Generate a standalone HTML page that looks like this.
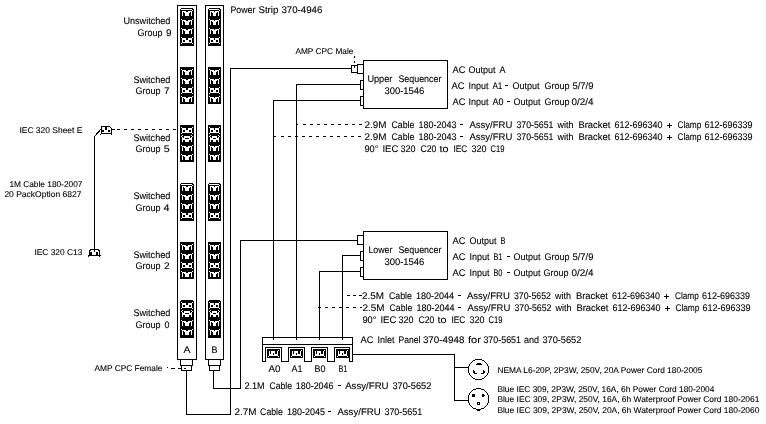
<!DOCTYPE html>
<html><head><meta charset="utf-8"><style>
html,body{margin:0;padding:0;background:#fff;width:766px;height:424px;overflow:hidden}
svg{display:block;filter:grayscale(100%)}
text{font-family:"Liberation Sans",sans-serif;text-rendering:geometricPrecision}
</style></head><body>
<svg width="766" height="424" viewBox="0 0 766 424">
<rect width="766" height="424" fill="#fff"/>
<g fill="none" stroke="#000" stroke-width="1" shape-rendering="crispEdges">
<rect x="177.5" y="5.5" width="19" height="354" fill="none"/>
<rect x="205.5" y="5.5" width="18" height="354" fill="none"/>
<rect x="180" y="8" width="14" height="38" fill="#000" stroke="none"/>
<g stroke="none">
<rect x="180" y="8" width="1" height="1" fill="#fff" stroke="none"/>
<rect x="193" y="8" width="1" height="1" fill="#fff" stroke="none"/>
<path d="M180 8h1v1h-1zM193 8h1v1h-1zM181 9h11v1h-11zM192 10h1v1h-1zM182 11h4v1h-4zM188 11h4v1h-4zM182 12h1v1h-1zM184 12h6v1h-6zM191 12h1v1h-1zM182 13h1v1h-1zM185 13h4v1h-4zM191 13h1v1h-1zM182 14h1v1h-1zM185 14h4v1h-4zM191 14h1v1h-1zM182 15h1v1h-1zM185 15h4v1h-4zM191 15h1v1h-1z" fill="#fff" stroke="none"/>
<path d="M181 19h1v1h-1zM192 19h1v1h-1zM182 20h4v1h-4zM188 20h4v1h-4zM182 21h1v1h-1zM184 21h6v1h-6zM191 21h1v1h-1zM182 22h1v1h-1zM185 22h4v1h-4zM191 22h1v1h-1zM182 23h1v1h-1zM185 23h4v1h-4zM191 23h1v1h-1zM182 24h1v1h-1zM185 24h4v1h-4zM191 24h1v1h-1z" fill="#fff" stroke="none"/>
<path d="M181 28h1v1h-1zM192 28h1v1h-1zM182 29h4v1h-4zM188 29h4v1h-4zM182 30h1v1h-1zM184 30h6v1h-6zM191 30h1v1h-1zM182 31h1v1h-1zM185 31h4v1h-4zM191 31h1v1h-1zM182 32h1v1h-1zM185 32h4v1h-4zM191 32h1v1h-1zM182 33h1v1h-1zM185 33h4v1h-4zM191 33h1v1h-1z" fill="#fff" stroke="none"/>
<path d="M181 37h1v1h-1zM192 37h1v1h-1zM182 38h4v1h-4zM188 38h4v1h-4zM182 39h4v1h-4zM188 39h4v1h-4zM182 40h1v1h-1zM185 40h4v1h-4zM191 40h1v1h-1zM182 41h1v1h-1zM185 41h4v1h-4zM191 41h1v1h-1zM182 42h10v1h-10zM181 43h1v1h-1zM192 43h1v1h-1z" fill="#fff" stroke="none"/>
</g>
<rect x="208" y="8" width="13" height="38" fill="#000" stroke="none"/>
<g stroke="none">
<rect x="208" y="8" width="1" height="1" fill="#fff" stroke="none"/>
<rect x="220" y="8" width="1" height="1" fill="#fff" stroke="none"/>
<path d="M208 8h1v1h-1zM220 8h1v1h-1zM209 9h10v1h-10zM219 10h1v1h-1zM210 11h4v1h-4zM215 11h4v1h-4zM210 12h1v1h-1zM212 12h5v1h-5zM218 12h1v1h-1zM210 13h1v1h-1zM213 13h3v1h-3zM218 13h1v1h-1zM210 14h1v1h-1zM213 14h3v1h-3zM218 14h1v1h-1zM210 15h1v1h-1zM213 15h3v1h-3zM218 15h1v1h-1z" fill="#fff" stroke="none"/>
<path d="M209 19h1v1h-1zM219 19h1v1h-1zM210 20h4v1h-4zM215 20h4v1h-4zM210 21h1v1h-1zM212 21h5v1h-5zM218 21h1v1h-1zM210 22h1v1h-1zM213 22h3v1h-3zM218 22h1v1h-1zM210 23h1v1h-1zM213 23h3v1h-3zM218 23h1v1h-1zM210 24h1v1h-1zM213 24h3v1h-3zM218 24h1v1h-1z" fill="#fff" stroke="none"/>
<path d="M209 28h1v1h-1zM219 28h1v1h-1zM210 29h4v1h-4zM215 29h4v1h-4zM210 30h1v1h-1zM212 30h5v1h-5zM218 30h1v1h-1zM210 31h1v1h-1zM213 31h3v1h-3zM218 31h1v1h-1zM210 32h1v1h-1zM213 32h3v1h-3zM218 32h1v1h-1zM210 33h1v1h-1zM213 33h3v1h-3zM218 33h1v1h-1z" fill="#fff" stroke="none"/>
<path d="M209 37h1v1h-1zM219 37h1v1h-1zM210 38h4v1h-4zM215 38h4v1h-4zM210 39h4v1h-4zM215 39h4v1h-4zM210 40h1v1h-1zM213 40h3v1h-3zM218 40h1v1h-1zM210 41h1v1h-1zM213 41h3v1h-3zM218 41h1v1h-1zM210 42h9v1h-9zM209 43h1v1h-1zM219 43h1v1h-1z" fill="#fff" stroke="none"/>
</g>
<rect x="180" y="67" width="14" height="37" fill="#000" stroke="none"/>
<g stroke="none">
<path d="M181 69h1v1h-1zM192 69h1v1h-1zM182 70h4v1h-4zM188 70h4v1h-4zM182 71h1v1h-1zM184 71h6v1h-6zM191 71h1v1h-1zM182 72h1v1h-1zM185 72h4v1h-4zM191 72h1v1h-1zM182 73h1v1h-1zM185 73h4v1h-4zM191 73h1v1h-1zM182 74h1v1h-1zM185 74h4v1h-4zM191 74h1v1h-1z" fill="#fff" stroke="none"/>
<path d="M181 78h1v1h-1zM192 78h1v1h-1zM182 79h4v1h-4zM188 79h4v1h-4zM182 80h1v1h-1zM184 80h6v1h-6zM191 80h1v1h-1zM182 81h1v1h-1zM185 81h4v1h-4zM191 81h1v1h-1zM182 82h1v1h-1zM185 82h4v1h-4zM191 82h1v1h-1zM182 83h1v1h-1zM185 83h4v1h-4zM191 83h1v1h-1z" fill="#fff" stroke="none"/>
<path d="M181 87h1v1h-1zM192 87h1v1h-1zM182 88h4v1h-4zM188 88h4v1h-4zM182 89h4v1h-4zM188 89h4v1h-4zM182 90h1v1h-1zM185 90h4v1h-4zM191 90h1v1h-1zM182 91h1v1h-1zM185 91h4v1h-4zM191 91h1v1h-1zM182 92h10v1h-10zM181 93h1v1h-1zM192 93h1v1h-1z" fill="#fff" stroke="none"/>
<path d="M181 96h1v1h-1zM192 96h1v1h-1zM182 97h4v1h-4zM188 97h4v1h-4zM182 98h1v1h-1zM184 98h6v1h-6zM191 98h1v1h-1zM182 99h1v1h-1zM185 99h4v1h-4zM191 99h1v1h-1zM182 100h1v1h-1zM185 100h4v1h-4zM191 100h1v1h-1zM182 101h1v1h-1zM185 101h4v1h-4zM191 101h1v1h-1z" fill="#fff" stroke="none"/>
</g>
<rect x="208" y="67" width="13" height="37" fill="#000" stroke="none"/>
<g stroke="none">
<path d="M209 69h1v1h-1zM219 69h1v1h-1zM210 70h4v1h-4zM215 70h4v1h-4zM210 71h1v1h-1zM212 71h5v1h-5zM218 71h1v1h-1zM210 72h1v1h-1zM213 72h3v1h-3zM218 72h1v1h-1zM210 73h1v1h-1zM213 73h3v1h-3zM218 73h1v1h-1zM210 74h1v1h-1zM213 74h3v1h-3zM218 74h1v1h-1z" fill="#fff" stroke="none"/>
<path d="M209 78h1v1h-1zM219 78h1v1h-1zM210 79h4v1h-4zM215 79h4v1h-4zM210 80h1v1h-1zM212 80h5v1h-5zM218 80h1v1h-1zM210 81h1v1h-1zM213 81h3v1h-3zM218 81h1v1h-1zM210 82h1v1h-1zM213 82h3v1h-3zM218 82h1v1h-1zM210 83h1v1h-1zM213 83h3v1h-3zM218 83h1v1h-1z" fill="#fff" stroke="none"/>
<path d="M209 87h1v1h-1zM219 87h1v1h-1zM210 88h4v1h-4zM215 88h4v1h-4zM210 89h4v1h-4zM215 89h4v1h-4zM210 90h1v1h-1zM213 90h3v1h-3zM218 90h1v1h-1zM210 91h1v1h-1zM213 91h3v1h-3zM218 91h1v1h-1zM210 92h9v1h-9zM209 93h1v1h-1zM219 93h1v1h-1z" fill="#fff" stroke="none"/>
<path d="M209 96h1v1h-1zM219 96h1v1h-1zM210 97h4v1h-4zM215 97h4v1h-4zM210 98h1v1h-1zM212 98h5v1h-5zM218 98h1v1h-1zM210 99h1v1h-1zM213 99h3v1h-3zM218 99h1v1h-1zM210 100h1v1h-1zM213 100h3v1h-3zM218 100h1v1h-1zM210 101h1v1h-1zM213 101h3v1h-3zM218 101h1v1h-1z" fill="#fff" stroke="none"/>
</g>
<rect x="180" y="125" width="14" height="37" fill="#000" stroke="none"/>
<g stroke="none">
<path d="M181 127h1v1h-1zM192 127h1v1h-1zM182 128h4v1h-4zM188 128h4v1h-4zM182 129h4v1h-4zM188 129h4v1h-4zM182 130h1v1h-1zM185 130h4v1h-4zM191 130h1v1h-1zM182 131h1v1h-1zM185 131h4v1h-4zM191 131h1v1h-1zM182 132h10v1h-10zM181 133h1v1h-1zM192 133h1v1h-1z" fill="#fff" stroke="none"/>
<path d="M182 135h1v1h-1zM191 135h1v1h-1zM181 136h1v1h-1zM184 136h6v1h-6zM192 136h1v1h-1zM182 137h1v1h-1zM184 137h6v1h-6zM191 137h1v1h-1zM182 138h3v1h-3zM189 138h3v1h-3zM182 139h10v1h-10zM182 140h1v1h-1zM185 140h4v1h-4zM191 140h1v1h-1zM182 141h1v1h-1zM185 141h4v1h-4zM191 141h1v1h-1z" fill="#fff" stroke="none"/>
<path d="M181 145h1v1h-1zM192 145h1v1h-1zM182 146h4v1h-4zM188 146h4v1h-4zM182 147h1v1h-1zM184 147h6v1h-6zM191 147h1v1h-1zM182 148h1v1h-1zM185 148h4v1h-4zM191 148h1v1h-1zM182 149h1v1h-1zM185 149h4v1h-4zM191 149h1v1h-1zM182 150h1v1h-1zM185 150h4v1h-4zM191 150h1v1h-1z" fill="#fff" stroke="none"/>
<path d="M181 154h1v1h-1zM192 154h1v1h-1zM182 155h4v1h-4zM188 155h4v1h-4zM182 156h1v1h-1zM184 156h6v1h-6zM191 156h1v1h-1zM182 157h1v1h-1zM185 157h4v1h-4zM191 157h1v1h-1zM182 158h1v1h-1zM185 158h4v1h-4zM191 158h1v1h-1zM182 159h1v1h-1zM185 159h4v1h-4zM191 159h1v1h-1z" fill="#fff" stroke="none"/>
</g>
<rect x="208" y="125" width="13" height="37" fill="#000" stroke="none"/>
<g stroke="none">
<path d="M209 127h1v1h-1zM219 127h1v1h-1zM210 128h4v1h-4zM215 128h4v1h-4zM210 129h4v1h-4zM215 129h4v1h-4zM210 130h1v1h-1zM213 130h3v1h-3zM218 130h1v1h-1zM210 131h1v1h-1zM213 131h3v1h-3zM218 131h1v1h-1zM210 132h9v1h-9zM209 133h1v1h-1zM219 133h1v1h-1z" fill="#fff" stroke="none"/>
<path d="M210 135h1v1h-1zM218 135h1v1h-1zM209 136h1v1h-1zM212 136h5v1h-5zM219 136h1v1h-1zM210 137h1v1h-1zM212 137h5v1h-5zM218 137h1v1h-1zM210 138h3v1h-3zM216 138h3v1h-3zM210 139h9v1h-9zM210 140h1v1h-1zM213 140h3v1h-3zM218 140h1v1h-1zM210 141h1v1h-1zM213 141h3v1h-3zM218 141h1v1h-1z" fill="#fff" stroke="none"/>
<path d="M209 145h1v1h-1zM219 145h1v1h-1zM210 146h4v1h-4zM215 146h4v1h-4zM210 147h1v1h-1zM212 147h5v1h-5zM218 147h1v1h-1zM210 148h1v1h-1zM213 148h3v1h-3zM218 148h1v1h-1zM210 149h1v1h-1zM213 149h3v1h-3zM218 149h1v1h-1zM210 150h1v1h-1zM213 150h3v1h-3zM218 150h1v1h-1z" fill="#fff" stroke="none"/>
<path d="M209 154h1v1h-1zM219 154h1v1h-1zM210 155h4v1h-4zM215 155h4v1h-4zM210 156h1v1h-1zM212 156h5v1h-5zM218 156h1v1h-1zM210 157h1v1h-1zM213 157h3v1h-3zM218 157h1v1h-1zM210 158h1v1h-1zM213 158h3v1h-3zM218 158h1v1h-1zM210 159h1v1h-1zM213 159h3v1h-3zM218 159h1v1h-1z" fill="#fff" stroke="none"/>
</g>
<rect x="180" y="183" width="14" height="38" fill="#000" stroke="none"/>
<g stroke="none">
<rect x="180" y="183" width="1" height="1" fill="#fff" stroke="none"/>
<rect x="193" y="183" width="1" height="1" fill="#fff" stroke="none"/>
<path d="M180 183h1v1h-1zM193 183h1v1h-1zM181 184h11v1h-11zM192 185h1v1h-1zM182 186h4v1h-4zM188 186h4v1h-4zM182 187h1v1h-1zM184 187h6v1h-6zM191 187h1v1h-1zM182 188h1v1h-1zM185 188h4v1h-4zM191 188h1v1h-1zM182 189h1v1h-1zM185 189h4v1h-4zM191 189h1v1h-1zM182 190h1v1h-1zM185 190h4v1h-4zM191 190h1v1h-1z" fill="#fff" stroke="none"/>
<path d="M181 194h1v1h-1zM192 194h1v1h-1zM182 195h4v1h-4zM188 195h4v1h-4zM182 196h1v1h-1zM184 196h6v1h-6zM191 196h1v1h-1zM182 197h1v1h-1zM185 197h4v1h-4zM191 197h1v1h-1zM182 198h1v1h-1zM185 198h4v1h-4zM191 198h1v1h-1zM182 199h1v1h-1zM185 199h4v1h-4zM191 199h1v1h-1z" fill="#fff" stroke="none"/>
<path d="M181 203h1v1h-1zM192 203h1v1h-1zM182 204h4v1h-4zM188 204h4v1h-4zM182 205h1v1h-1zM184 205h6v1h-6zM191 205h1v1h-1zM182 206h1v1h-1zM185 206h4v1h-4zM191 206h1v1h-1zM182 207h1v1h-1zM185 207h4v1h-4zM191 207h1v1h-1zM182 208h1v1h-1zM185 208h4v1h-4zM191 208h1v1h-1z" fill="#fff" stroke="none"/>
<path d="M181 212h1v1h-1zM192 212h1v1h-1zM182 213h4v1h-4zM188 213h4v1h-4zM182 214h4v1h-4zM188 214h4v1h-4zM182 215h1v1h-1zM185 215h4v1h-4zM191 215h1v1h-1zM182 216h1v1h-1zM185 216h4v1h-4zM191 216h1v1h-1zM182 217h10v1h-10zM181 218h1v1h-1zM192 218h1v1h-1z" fill="#fff" stroke="none"/>
</g>
<rect x="208" y="183" width="13" height="38" fill="#000" stroke="none"/>
<g stroke="none">
<rect x="208" y="183" width="1" height="1" fill="#fff" stroke="none"/>
<rect x="220" y="183" width="1" height="1" fill="#fff" stroke="none"/>
<path d="M208 183h1v1h-1zM220 183h1v1h-1zM209 184h10v1h-10zM219 185h1v1h-1zM210 186h4v1h-4zM215 186h4v1h-4zM210 187h1v1h-1zM212 187h5v1h-5zM218 187h1v1h-1zM210 188h1v1h-1zM213 188h3v1h-3zM218 188h1v1h-1zM210 189h1v1h-1zM213 189h3v1h-3zM218 189h1v1h-1zM210 190h1v1h-1zM213 190h3v1h-3zM218 190h1v1h-1z" fill="#fff" stroke="none"/>
<path d="M209 194h1v1h-1zM219 194h1v1h-1zM210 195h4v1h-4zM215 195h4v1h-4zM210 196h1v1h-1zM212 196h5v1h-5zM218 196h1v1h-1zM210 197h1v1h-1zM213 197h3v1h-3zM218 197h1v1h-1zM210 198h1v1h-1zM213 198h3v1h-3zM218 198h1v1h-1zM210 199h1v1h-1zM213 199h3v1h-3zM218 199h1v1h-1z" fill="#fff" stroke="none"/>
<path d="M209 203h1v1h-1zM219 203h1v1h-1zM210 204h4v1h-4zM215 204h4v1h-4zM210 205h1v1h-1zM212 205h5v1h-5zM218 205h1v1h-1zM210 206h1v1h-1zM213 206h3v1h-3zM218 206h1v1h-1zM210 207h1v1h-1zM213 207h3v1h-3zM218 207h1v1h-1zM210 208h1v1h-1zM213 208h3v1h-3zM218 208h1v1h-1z" fill="#fff" stroke="none"/>
<path d="M209 212h1v1h-1zM219 212h1v1h-1zM210 213h4v1h-4zM215 213h4v1h-4zM210 214h4v1h-4zM215 214h4v1h-4zM210 215h1v1h-1zM213 215h3v1h-3zM218 215h1v1h-1zM210 216h1v1h-1zM213 216h3v1h-3zM218 216h1v1h-1zM210 217h9v1h-9zM209 218h1v1h-1zM219 218h1v1h-1z" fill="#fff" stroke="none"/>
</g>
<rect x="180" y="242" width="14" height="37" fill="#000" stroke="none"/>
<g stroke="none">
<path d="M181 244h1v1h-1zM192 244h1v1h-1zM182 245h4v1h-4zM188 245h4v1h-4zM182 246h1v1h-1zM184 246h6v1h-6zM191 246h1v1h-1zM182 247h1v1h-1zM185 247h4v1h-4zM191 247h1v1h-1zM182 248h1v1h-1zM185 248h4v1h-4zM191 248h1v1h-1zM182 249h1v1h-1zM185 249h4v1h-4zM191 249h1v1h-1z" fill="#fff" stroke="none"/>
<path d="M181 253h1v1h-1zM192 253h1v1h-1zM182 254h4v1h-4zM188 254h4v1h-4zM182 255h1v1h-1zM184 255h6v1h-6zM191 255h1v1h-1zM182 256h1v1h-1zM185 256h4v1h-4zM191 256h1v1h-1zM182 257h1v1h-1zM185 257h4v1h-4zM191 257h1v1h-1zM182 258h1v1h-1zM185 258h4v1h-4zM191 258h1v1h-1z" fill="#fff" stroke="none"/>
<path d="M181 262h1v1h-1zM192 262h1v1h-1zM182 263h4v1h-4zM188 263h4v1h-4zM182 264h4v1h-4zM188 264h4v1h-4zM182 265h1v1h-1zM185 265h4v1h-4zM191 265h1v1h-1zM182 266h1v1h-1zM185 266h4v1h-4zM191 266h1v1h-1zM182 267h10v1h-10zM181 268h1v1h-1zM192 268h1v1h-1z" fill="#fff" stroke="none"/>
<path d="M181 271h1v1h-1zM192 271h1v1h-1zM182 272h4v1h-4zM188 272h4v1h-4zM182 273h1v1h-1zM184 273h6v1h-6zM191 273h1v1h-1zM182 274h1v1h-1zM185 274h4v1h-4zM191 274h1v1h-1zM182 275h1v1h-1zM185 275h4v1h-4zM191 275h1v1h-1zM182 276h1v1h-1zM185 276h4v1h-4zM191 276h1v1h-1z" fill="#fff" stroke="none"/>
</g>
<rect x="208" y="242" width="13" height="37" fill="#000" stroke="none"/>
<g stroke="none">
<path d="M209 244h1v1h-1zM219 244h1v1h-1zM210 245h4v1h-4zM215 245h4v1h-4zM210 246h1v1h-1zM212 246h5v1h-5zM218 246h1v1h-1zM210 247h1v1h-1zM213 247h3v1h-3zM218 247h1v1h-1zM210 248h1v1h-1zM213 248h3v1h-3zM218 248h1v1h-1zM210 249h1v1h-1zM213 249h3v1h-3zM218 249h1v1h-1z" fill="#fff" stroke="none"/>
<path d="M209 253h1v1h-1zM219 253h1v1h-1zM210 254h4v1h-4zM215 254h4v1h-4zM210 255h1v1h-1zM212 255h5v1h-5zM218 255h1v1h-1zM210 256h1v1h-1zM213 256h3v1h-3zM218 256h1v1h-1zM210 257h1v1h-1zM213 257h3v1h-3zM218 257h1v1h-1zM210 258h1v1h-1zM213 258h3v1h-3zM218 258h1v1h-1z" fill="#fff" stroke="none"/>
<path d="M209 262h1v1h-1zM219 262h1v1h-1zM210 263h4v1h-4zM215 263h4v1h-4zM210 264h4v1h-4zM215 264h4v1h-4zM210 265h1v1h-1zM213 265h3v1h-3zM218 265h1v1h-1zM210 266h1v1h-1zM213 266h3v1h-3zM218 266h1v1h-1zM210 267h9v1h-9zM209 268h1v1h-1zM219 268h1v1h-1z" fill="#fff" stroke="none"/>
<path d="M209 271h1v1h-1zM219 271h1v1h-1zM210 272h4v1h-4zM215 272h4v1h-4zM210 273h1v1h-1zM212 273h5v1h-5zM218 273h1v1h-1zM210 274h1v1h-1zM213 274h3v1h-3zM218 274h1v1h-1zM210 275h1v1h-1zM213 275h3v1h-3zM218 275h1v1h-1zM210 276h1v1h-1zM213 276h3v1h-3zM218 276h1v1h-1z" fill="#fff" stroke="none"/>
</g>
<rect x="180" y="300" width="14" height="38" fill="#000" stroke="none"/>
<g stroke="none">
<rect x="180" y="300" width="1" height="1" fill="#fff" stroke="none"/>
<rect x="193" y="300" width="1" height="1" fill="#fff" stroke="none"/>
<path d="M181 302h1v1h-1zM192 302h1v1h-1zM182 303h4v1h-4zM188 303h4v1h-4zM182 304h4v1h-4zM188 304h4v1h-4zM182 305h1v1h-1zM185 305h4v1h-4zM191 305h1v1h-1zM182 306h1v1h-1zM185 306h4v1h-4zM191 306h1v1h-1zM182 307h10v1h-10zM181 308h1v1h-1zM192 308h1v1h-1z" fill="#fff" stroke="none"/>
<path d="M182 310h1v1h-1zM191 310h1v1h-1zM181 311h1v1h-1zM184 311h6v1h-6zM192 311h1v1h-1zM182 312h1v1h-1zM184 312h6v1h-6zM191 312h1v1h-1zM182 313h3v1h-3zM189 313h3v1h-3zM182 314h10v1h-10zM182 315h1v1h-1zM185 315h4v1h-4zM191 315h1v1h-1zM182 316h1v1h-1zM185 316h4v1h-4zM191 316h1v1h-1z" fill="#fff" stroke="none"/>
<path d="M181 320h1v1h-1zM192 320h1v1h-1zM182 321h4v1h-4zM188 321h4v1h-4zM182 322h1v1h-1zM184 322h6v1h-6zM191 322h1v1h-1zM182 323h1v1h-1zM185 323h4v1h-4zM191 323h1v1h-1zM182 324h1v1h-1zM185 324h4v1h-4zM191 324h1v1h-1zM182 325h1v1h-1zM185 325h4v1h-4zM191 325h1v1h-1z" fill="#fff" stroke="none"/>
<path d="M181 329h1v1h-1zM192 329h1v1h-1zM182 330h4v1h-4zM188 330h4v1h-4zM182 331h1v1h-1zM184 331h6v1h-6zM191 331h1v1h-1zM182 332h1v1h-1zM185 332h4v1h-4zM191 332h1v1h-1zM182 333h1v1h-1zM185 333h4v1h-4zM191 333h1v1h-1zM182 334h1v1h-1zM185 334h4v1h-4zM191 334h1v1h-1z" fill="#fff" stroke="none"/>
</g>
<rect x="208" y="300" width="13" height="38" fill="#000" stroke="none"/>
<g stroke="none">
<rect x="208" y="300" width="1" height="1" fill="#fff" stroke="none"/>
<rect x="220" y="300" width="1" height="1" fill="#fff" stroke="none"/>
<path d="M209 302h1v1h-1zM219 302h1v1h-1zM210 303h4v1h-4zM215 303h4v1h-4zM210 304h4v1h-4zM215 304h4v1h-4zM210 305h1v1h-1zM213 305h3v1h-3zM218 305h1v1h-1zM210 306h1v1h-1zM213 306h3v1h-3zM218 306h1v1h-1zM210 307h9v1h-9zM209 308h1v1h-1zM219 308h1v1h-1z" fill="#fff" stroke="none"/>
<path d="M210 310h1v1h-1zM218 310h1v1h-1zM209 311h1v1h-1zM212 311h5v1h-5zM219 311h1v1h-1zM210 312h1v1h-1zM212 312h5v1h-5zM218 312h1v1h-1zM210 313h3v1h-3zM216 313h3v1h-3zM210 314h9v1h-9zM210 315h1v1h-1zM213 315h3v1h-3zM218 315h1v1h-1zM210 316h1v1h-1zM213 316h3v1h-3zM218 316h1v1h-1z" fill="#fff" stroke="none"/>
<path d="M209 320h1v1h-1zM219 320h1v1h-1zM210 321h4v1h-4zM215 321h4v1h-4zM210 322h1v1h-1zM212 322h5v1h-5zM218 322h1v1h-1zM210 323h1v1h-1zM213 323h3v1h-3zM218 323h1v1h-1zM210 324h1v1h-1zM213 324h3v1h-3zM218 324h1v1h-1zM210 325h1v1h-1zM213 325h3v1h-3zM218 325h1v1h-1z" fill="#fff" stroke="none"/>
<path d="M209 329h1v1h-1zM219 329h1v1h-1zM210 330h4v1h-4zM215 330h4v1h-4zM210 331h1v1h-1zM212 331h5v1h-5zM218 331h1v1h-1zM210 332h1v1h-1zM213 332h3v1h-3zM218 332h1v1h-1zM210 333h1v1h-1zM213 333h3v1h-3zM218 333h1v1h-1zM210 334h1v1h-1zM213 334h3v1h-3zM218 334h1v1h-1z" fill="#fff" stroke="none"/>
</g>
</g>
<g font-family="Liberation Sans, sans-serif" fill="#000" stroke="#000" stroke-width="0.1">
<text x="123.40" y="24" textLength="47.00" lengthAdjust="spacingAndGlyphs" font-size="9.6">Unswitched</text>
<text x="137.40" y="36" textLength="25.00" lengthAdjust="spacingAndGlyphs" font-size="9.6">Group</text>
<text x="165.90" y="36" textLength="5.50" lengthAdjust="spacingAndGlyphs" font-size="9.6">9</text>
<text x="133.40" y="83" textLength="37.00" lengthAdjust="spacingAndGlyphs" font-size="9.6">Switched</text>
<text x="135.40" y="94" textLength="25.00" lengthAdjust="spacingAndGlyphs" font-size="9.6">Group</text>
<text x="164.10" y="94" textLength="5.60" lengthAdjust="spacingAndGlyphs" font-size="9.6">7</text>
<text x="133.40" y="141" textLength="37.00" lengthAdjust="spacingAndGlyphs" font-size="9.6">Switched</text>
<text x="135.40" y="152" textLength="25.00" lengthAdjust="spacingAndGlyphs" font-size="9.6">Group</text>
<text x="163.70" y="152" textLength="5.90" lengthAdjust="spacingAndGlyphs" font-size="9.6">5</text>
<text x="133.40" y="199" textLength="37.00" lengthAdjust="spacingAndGlyphs" font-size="9.6">Switched</text>
<text x="135.40" y="211" textLength="25.00" lengthAdjust="spacingAndGlyphs" font-size="9.6">Group</text>
<text x="163.40" y="211" textLength="6.00" lengthAdjust="spacingAndGlyphs" font-size="9.6">4</text>
<text x="133.40" y="258" textLength="37.00" lengthAdjust="spacingAndGlyphs" font-size="9.6">Switched</text>
<text x="135.40" y="269" textLength="25.00" lengthAdjust="spacingAndGlyphs" font-size="9.6">Group</text>
<text x="164.10" y="269" textLength="5.60" lengthAdjust="spacingAndGlyphs" font-size="9.6">2</text>
<text x="133.40" y="316" textLength="37.00" lengthAdjust="spacingAndGlyphs" font-size="9.6">Switched</text>
<text x="135.40" y="328" textLength="25.00" lengthAdjust="spacingAndGlyphs" font-size="9.6">Group</text>
<text x="164.40" y="328" textLength="5.00" lengthAdjust="spacingAndGlyphs" font-size="9.6">0</text>
<text x="183.40" y="353" textLength="7.00" lengthAdjust="spacingAndGlyphs" font-size="9.6">A</text>
<text x="211.40" y="353" textLength="6.00" lengthAdjust="spacingAndGlyphs" font-size="9.6">B</text>
<text x="230.40" y="13" textLength="25.00" lengthAdjust="spacingAndGlyphs" font-size="9.6">Power</text>
<text x="258.40" y="13" textLength="20.00" lengthAdjust="spacingAndGlyphs" font-size="9.6">Strip</text>
<text x="281.40" y="13" textLength="41.00" lengthAdjust="spacingAndGlyphs" font-size="9.6">370-4946</text>
<text x="19.40" y="133" textLength="63.00" lengthAdjust="spacingAndGlyphs" font-size="8.4">IEC 320 Sheet E</text>
<text x="9.40" y="187" textLength="73.00" lengthAdjust="spacingAndGlyphs" font-size="8.4">1M Cable 180-2007</text>
<text x="4.40" y="197" textLength="77.00" lengthAdjust="spacingAndGlyphs" font-size="8.4">20 PackOption 6827</text>
<text x="34.40" y="255" textLength="48.00" lengthAdjust="spacingAndGlyphs" font-size="8.4">IEC 320 C13</text>
<text x="94.40" y="371" textLength="68.00" lengthAdjust="spacingAndGlyphs" font-size="8.4">AMP CPC Female</text>
<text x="295.40" y="54" textLength="58.00" lengthAdjust="spacingAndGlyphs" font-size="8.4">AMP CPC Male</text>
<text x="367.40" y="82" textLength="25.00" lengthAdjust="spacingAndGlyphs" font-size="9.6">Upper</text>
<text x="398.40" y="82" textLength="43.00" lengthAdjust="spacingAndGlyphs" font-size="9.6">Sequencer</text>
<text x="384.40" y="94" textLength="40.00" lengthAdjust="spacingAndGlyphs" font-size="9.6">300-1546</text>
<text x="452.40" y="73" textLength="13.00" lengthAdjust="spacingAndGlyphs" font-size="9.6">AC</text>
<text x="468.40" y="73" textLength="27.00" lengthAdjust="spacingAndGlyphs" font-size="9.6">Output</text>
<text x="499.40" y="73" textLength="6.00" lengthAdjust="spacingAndGlyphs" font-size="9.6">A</text>
<text x="451.40" y="89" textLength="13.00" lengthAdjust="spacingAndGlyphs" font-size="9.6">AC</text>
<text x="468.40" y="89" textLength="20.00" lengthAdjust="spacingAndGlyphs" font-size="9.6">Input</text>
<text x="492.40" y="89" textLength="10.00" lengthAdjust="spacingAndGlyphs" font-size="9.6">A1</text>
<rect x="505" y="85" width="3" height="1" fill="#000" stroke="none"/>
<text x="512.40" y="89" textLength="27.00" lengthAdjust="spacingAndGlyphs" font-size="9.6">Output</text>
<text x="544.40" y="89" textLength="25.00" lengthAdjust="spacingAndGlyphs" font-size="9.6">Group</text>
<text x="572.40" y="89" textLength="21.00" lengthAdjust="spacingAndGlyphs" font-size="9.6">5/7/9</text>
<text x="452.40" y="105" textLength="13.00" lengthAdjust="spacingAndGlyphs" font-size="9.6">AC</text>
<text x="468.40" y="105" textLength="20.00" lengthAdjust="spacingAndGlyphs" font-size="9.6">Input</text>
<text x="492.40" y="105" textLength="11.00" lengthAdjust="spacingAndGlyphs" font-size="9.6">A0</text>
<rect x="507" y="101" width="3" height="1" fill="#000" stroke="none"/>
<text x="513.40" y="105" textLength="27.00" lengthAdjust="spacingAndGlyphs" font-size="9.6">Output</text>
<text x="544.40" y="105" textLength="25.00" lengthAdjust="spacingAndGlyphs" font-size="9.6">Group</text>
<text x="571.40" y="105" textLength="22.00" lengthAdjust="spacingAndGlyphs" font-size="9.6">0/2/4</text>
<text x="364.40" y="128" textLength="22.00" lengthAdjust="spacingAndGlyphs" font-size="9.6">2.9M</text>
<text x="391.40" y="128" textLength="23.00" lengthAdjust="spacingAndGlyphs" font-size="9.6">Cable</text>
<text x="418.40" y="128" textLength="38.00" lengthAdjust="spacingAndGlyphs" font-size="9.6">180-2043</text>
<rect x="460" y="124" width="3" height="1" fill="#000" stroke="none"/>
<text x="469.40" y="128" textLength="43.00" lengthAdjust="spacingAndGlyphs" font-size="9.6">Assy/FRU</text>
<text x="516.40" y="128" textLength="37.00" lengthAdjust="spacingAndGlyphs" font-size="9.6">370-5651</text>
<text x="557.40" y="128" textLength="16.00" lengthAdjust="spacingAndGlyphs" font-size="9.6">with</text>
<text x="578.40" y="128" textLength="32.00" lengthAdjust="spacingAndGlyphs" font-size="9.6">Bracket</text>
<text x="614.40" y="128" textLength="48.00" lengthAdjust="spacingAndGlyphs" font-size="9.6">612-696340</text>
<path d="M667 125h5v1h-5zM669 123h1v2h-1zM669 126h1v2h-1z" fill="#000" stroke="none"/>
<text x="677.40" y="128" textLength="24.00" lengthAdjust="spacingAndGlyphs" font-size="9.6">Clamp</text>
<text x="704.40" y="128" textLength="48.00" lengthAdjust="spacingAndGlyphs" font-size="9.6">612-696339</text>
<text x="364.40" y="140" textLength="22.00" lengthAdjust="spacingAndGlyphs" font-size="9.6">2.9M</text>
<text x="391.40" y="140" textLength="23.00" lengthAdjust="spacingAndGlyphs" font-size="9.6">Cable</text>
<text x="418.40" y="140" textLength="38.00" lengthAdjust="spacingAndGlyphs" font-size="9.6">180-2043</text>
<rect x="460" y="136" width="3" height="1" fill="#000" stroke="none"/>
<text x="469.40" y="140" textLength="43.00" lengthAdjust="spacingAndGlyphs" font-size="9.6">Assy/FRU</text>
<text x="516.40" y="140" textLength="37.00" lengthAdjust="spacingAndGlyphs" font-size="9.6">370-5651</text>
<text x="557.40" y="140" textLength="16.00" lengthAdjust="spacingAndGlyphs" font-size="9.6">with</text>
<text x="578.40" y="140" textLength="32.00" lengthAdjust="spacingAndGlyphs" font-size="9.6">Bracket</text>
<text x="614.40" y="140" textLength="48.00" lengthAdjust="spacingAndGlyphs" font-size="9.6">612-696340</text>
<path d="M667 137h5v1h-5zM669 135h1v2h-1zM669 138h1v2h-1z" fill="#000" stroke="none"/>
<text x="677.40" y="140" textLength="24.00" lengthAdjust="spacingAndGlyphs" font-size="9.6">Clamp</text>
<text x="704.40" y="140" textLength="48.00" lengthAdjust="spacingAndGlyphs" font-size="9.6">612-696339</text>
<text x="364.40" y="152" textLength="14.00" lengthAdjust="spacingAndGlyphs" font-size="9.6">90°</text>
<text x="382.40" y="152" textLength="16.00" lengthAdjust="spacingAndGlyphs" font-size="9.6">IEC</text>
<text x="400.40" y="152" textLength="15.00" lengthAdjust="spacingAndGlyphs" font-size="9.6">320</text>
<text x="420.40" y="152" textLength="16.00" lengthAdjust="spacingAndGlyphs" font-size="9.6">C20</text>
<text x="439.40" y="152" textLength="9.00" lengthAdjust="spacingAndGlyphs" font-size="9.6">to</text>
<text x="453.40" y="152" textLength="14.00" lengthAdjust="spacingAndGlyphs" font-size="9.6">IEC</text>
<text x="471.40" y="152" textLength="15.00" lengthAdjust="spacingAndGlyphs" font-size="9.6">320</text>
<text x="490.40" y="152" textLength="14.00" lengthAdjust="spacingAndGlyphs" font-size="9.6">C19</text>
<text x="368.40" y="253" textLength="24.00" lengthAdjust="spacingAndGlyphs" font-size="9.6">Lower</text>
<text x="398.40" y="253" textLength="43.00" lengthAdjust="spacingAndGlyphs" font-size="9.6">Sequencer</text>
<text x="384.40" y="265" textLength="40.00" lengthAdjust="spacingAndGlyphs" font-size="9.6">300-1546</text>
<text x="452.40" y="244" textLength="13.00" lengthAdjust="spacingAndGlyphs" font-size="9.6">AC</text>
<text x="469.40" y="244" textLength="27.00" lengthAdjust="spacingAndGlyphs" font-size="9.6">Output</text>
<text x="500.40" y="244" textLength="5.00" lengthAdjust="spacingAndGlyphs" font-size="9.6">B</text>
<text x="452.40" y="260" textLength="13.00" lengthAdjust="spacingAndGlyphs" font-size="9.6">AC</text>
<text x="469.40" y="260" textLength="20.00" lengthAdjust="spacingAndGlyphs" font-size="9.6">Input</text>
<text x="493.40" y="260" textLength="9.00" lengthAdjust="spacingAndGlyphs" font-size="9.6">B1</text>
<rect x="507" y="256" width="3" height="1" fill="#000" stroke="none"/>
<text x="513.40" y="260" textLength="27.00" lengthAdjust="spacingAndGlyphs" font-size="9.6">Output</text>
<text x="544.40" y="260" textLength="25.00" lengthAdjust="spacingAndGlyphs" font-size="9.6">Group</text>
<text x="572.40" y="260" textLength="21.00" lengthAdjust="spacingAndGlyphs" font-size="9.6">5/7/9</text>
<text x="452.40" y="276" textLength="13.00" lengthAdjust="spacingAndGlyphs" font-size="9.6">AC</text>
<text x="469.40" y="276" textLength="20.00" lengthAdjust="spacingAndGlyphs" font-size="9.6">Input</text>
<text x="493.40" y="276" textLength="9.00" lengthAdjust="spacingAndGlyphs" font-size="9.6">B0</text>
<rect x="507" y="272" width="3" height="1" fill="#000" stroke="none"/>
<text x="513.40" y="276" textLength="27.00" lengthAdjust="spacingAndGlyphs" font-size="9.6">Output</text>
<text x="543.40" y="276" textLength="25.00" lengthAdjust="spacingAndGlyphs" font-size="9.6">Group</text>
<text x="571.40" y="276" textLength="22.00" lengthAdjust="spacingAndGlyphs" font-size="9.6">0/2/4</text>
<text x="361.90" y="299" textLength="22.00" lengthAdjust="spacingAndGlyphs" font-size="9.6">2.5M</text>
<text x="388.90" y="299" textLength="23.00" lengthAdjust="spacingAndGlyphs" font-size="9.6">Cable</text>
<text x="415.90" y="299" textLength="38.00" lengthAdjust="spacingAndGlyphs" font-size="9.6">180-2044</text>
<rect x="458" y="295" width="3" height="1" fill="#000" stroke="none"/>
<text x="466.90" y="299" textLength="43.00" lengthAdjust="spacingAndGlyphs" font-size="9.6">Assy/FRU</text>
<text x="513.90" y="299" textLength="37.00" lengthAdjust="spacingAndGlyphs" font-size="9.6">370-5652</text>
<text x="554.90" y="299" textLength="16.00" lengthAdjust="spacingAndGlyphs" font-size="9.6">with</text>
<text x="575.90" y="299" textLength="32.00" lengthAdjust="spacingAndGlyphs" font-size="9.6">Bracket</text>
<text x="611.90" y="299" textLength="48.00" lengthAdjust="spacingAndGlyphs" font-size="9.6">612-696340</text>
<path d="M664 296h5v1h-5zM666 294h1v2h-1zM666 297h1v2h-1z" fill="#000" stroke="none"/>
<text x="674.90" y="299" textLength="24.00" lengthAdjust="spacingAndGlyphs" font-size="9.6">Clamp</text>
<text x="701.90" y="299" textLength="48.00" lengthAdjust="spacingAndGlyphs" font-size="9.6">612-696339</text>
<text x="362.40" y="311" textLength="22.00" lengthAdjust="spacingAndGlyphs" font-size="9.6">2.5M</text>
<text x="389.40" y="311" textLength="23.00" lengthAdjust="spacingAndGlyphs" font-size="9.6">Cable</text>
<text x="416.40" y="311" textLength="38.00" lengthAdjust="spacingAndGlyphs" font-size="9.6">180-2044</text>
<rect x="458" y="307" width="3" height="1" fill="#000" stroke="none"/>
<text x="467.40" y="311" textLength="43.00" lengthAdjust="spacingAndGlyphs" font-size="9.6">Assy/FRU</text>
<text x="514.40" y="311" textLength="37.00" lengthAdjust="spacingAndGlyphs" font-size="9.6">370-5652</text>
<text x="555.40" y="311" textLength="16.00" lengthAdjust="spacingAndGlyphs" font-size="9.6">with</text>
<text x="576.40" y="311" textLength="32.00" lengthAdjust="spacingAndGlyphs" font-size="9.6">Bracket</text>
<text x="612.40" y="311" textLength="48.00" lengthAdjust="spacingAndGlyphs" font-size="9.6">612-696340</text>
<path d="M665 308h5v1h-5zM667 306h1v2h-1zM667 309h1v2h-1z" fill="#000" stroke="none"/>
<text x="675.40" y="311" textLength="24.00" lengthAdjust="spacingAndGlyphs" font-size="9.6">Clamp</text>
<text x="702.40" y="311" textLength="48.00" lengthAdjust="spacingAndGlyphs" font-size="9.6">612-696339</text>
<text x="362.40" y="323" textLength="14.00" lengthAdjust="spacingAndGlyphs" font-size="9.6">90°</text>
<text x="380.40" y="323" textLength="16.00" lengthAdjust="spacingAndGlyphs" font-size="9.6">IEC</text>
<text x="398.40" y="323" textLength="15.00" lengthAdjust="spacingAndGlyphs" font-size="9.6">320</text>
<text x="418.40" y="323" textLength="16.00" lengthAdjust="spacingAndGlyphs" font-size="9.6">C20</text>
<text x="437.40" y="323" textLength="9.00" lengthAdjust="spacingAndGlyphs" font-size="9.6">to</text>
<text x="451.40" y="323" textLength="14.00" lengthAdjust="spacingAndGlyphs" font-size="9.6">IEC</text>
<text x="469.40" y="323" textLength="15.00" lengthAdjust="spacingAndGlyphs" font-size="9.6">320</text>
<text x="488.40" y="323" textLength="14.00" lengthAdjust="spacingAndGlyphs" font-size="9.6">C19</text>
<text x="360.40" y="343" textLength="13.00" lengthAdjust="spacingAndGlyphs" font-size="9.6">AC</text>
<text x="377.40" y="343" textLength="17.00" lengthAdjust="spacingAndGlyphs" font-size="9.6">Inlet</text>
<text x="398.40" y="343" textLength="22.00" lengthAdjust="spacingAndGlyphs" font-size="9.6">Panel</text>
<text x="422.90" y="343" textLength="41.50" lengthAdjust="spacingAndGlyphs" font-size="9.6">370-4948</text>
<text x="467.90" y="343" textLength="13.00" lengthAdjust="spacingAndGlyphs" font-size="9.6">for</text>
<text x="483.40" y="343" textLength="37.60" lengthAdjust="spacingAndGlyphs" font-size="9.6">370-5651</text>
<text x="523.90" y="343" textLength="15.10" lengthAdjust="spacingAndGlyphs" font-size="9.6">and</text>
<text x="542.40" y="343" textLength="39.00" lengthAdjust="spacingAndGlyphs" font-size="9.6">370-5652</text>
<text x="268.40" y="372" textLength="12.00" lengthAdjust="spacingAndGlyphs" font-size="9.6">A0</text>
<text x="291.40" y="372" textLength="11.00" lengthAdjust="spacingAndGlyphs" font-size="9.6">A1</text>
<text x="314.40" y="372" textLength="11.00" lengthAdjust="spacingAndGlyphs" font-size="9.6">B0</text>
<text x="338.40" y="372" textLength="9.00" lengthAdjust="spacingAndGlyphs" font-size="9.6">B1</text>
<text x="244.40" y="389" textLength="20.30" lengthAdjust="spacingAndGlyphs" font-size="9.6">2.1M</text>
<text x="269.40" y="389" textLength="22.60" lengthAdjust="spacingAndGlyphs" font-size="9.6">Cable</text>
<text x="295.70" y="389" textLength="37.90" lengthAdjust="spacingAndGlyphs" font-size="9.6">180-2046</text>
<rect x="338" y="385" width="3" height="1" fill="#000" stroke="none"/>
<text x="345.20" y="389" textLength="43.40" lengthAdjust="spacingAndGlyphs" font-size="9.6">Assy/FRU</text>
<text x="392.40" y="389" textLength="39.00" lengthAdjust="spacingAndGlyphs" font-size="9.6">370-5652</text>
<text x="234.40" y="415" textLength="22.00" lengthAdjust="spacingAndGlyphs" font-size="9.6">2.7M</text>
<text x="260.10" y="415" textLength="22.80" lengthAdjust="spacingAndGlyphs" font-size="9.6">Cable</text>
<text x="287.10" y="415" textLength="37.90" lengthAdjust="spacingAndGlyphs" font-size="9.6">180-2045</text>
<rect x="328" y="411" width="3" height="1" fill="#000" stroke="none"/>
<text x="337.40" y="415" textLength="43.30" lengthAdjust="spacingAndGlyphs" font-size="9.6">Assy/FRU</text>
<text x="384.40" y="415" textLength="37.90" lengthAdjust="spacingAndGlyphs" font-size="9.6">370-5651</text>
<text x="497.40" y="373" textLength="205.00" lengthAdjust="spacingAndGlyphs" font-size="8.4">NEMA L6-20P, 2P3W, 250V, 20A Power Cord 180-2005</text>
<text x="497.40" y="392" textLength="217.00" lengthAdjust="spacingAndGlyphs" font-size="8.4">Blue IEC 309, 2P3W, 250V, 16A, 6h Power Cord 180-2004</text>
<text x="497.40" y="402" textLength="262.00" lengthAdjust="spacingAndGlyphs" font-size="8.4">Blue IEC 309, 2P3W, 250V, 16A, 6h Waterproof Power Cord 180-2061</text>
<text x="497.40" y="413" textLength="262.00" lengthAdjust="spacingAndGlyphs" font-size="8.4">Blue IEC 309, 2P3W, 250V, 20A, 6h Waterproof Power Cord 180-2060</text>
</g>
<g fill="none" stroke="#000" stroke-width="1" shape-rendering="crispEdges">
<rect x="180.5" y="359.5" width="12" height="6" fill="none"/>
<rect x="181.5" y="365.5" width="10" height="5" fill="none"/>
<rect x="184" y="368" width="2" height="1" fill="#000" stroke="none"/>
<rect x="208.5" y="359.5" width="12" height="6" fill="none"/>
<rect x="209.5" y="365.5" width="10" height="5" fill="none"/>
<path d="M186.5 371V414.5H230.5V68.5H351"/>
<path d="M213.5 371V388.5H240.5V240.5H357"/>
<rect x="167" y="367" width="1" height="1" fill="#000" stroke="none"/>
<path d="M171 368.5H175"/>
<path d="M178 368.5H181"/>
<path d="M117 129.5H180" stroke-dasharray="3 4"/>
<path d="M94.5 249V136.5L101.5 128.5"/>
<path d="M101.5 133.5V126.5H109.5L111.5 128.5V133.5H101"/>
<rect x="105" y="127" width="2" height="3" fill="#000" stroke="none"/>
<rect x="102" y="130" width="2" height="2" fill="#000" stroke="none"/>
<rect x="108" y="130" width="2" height="2" fill="#000" stroke="none"/>
<rect x="100" y="134" width="1" height="1" fill="#000" stroke="none"/>
<rect x="111" y="134" width="1" height="1" fill="#000" stroke="none"/>
<path d="M112 129.5H115"/>
<path d="M89.5 255V250.5H90.5V249.5H98.5V250.5H99.5V255"/>
<path d="M88 255.5H101"/>
<rect x="88" y="256" width="1" height="1" fill="#000" stroke="none"/>
<rect x="99" y="256" width="1" height="1" fill="#000" stroke="none"/>
<rect x="94" y="250" width="1" height="2" fill="#000" stroke="none"/>
<rect x="90" y="252" width="2" height="3" fill="#000" stroke="none"/>
<rect x="96" y="252" width="2" height="3" fill="#000" stroke="none"/>
<rect x="351.5" y="65.5" width="6" height="7" fill="none"/>
<rect x="357.5" y="64.5" width="6" height="9" fill="none"/>
<path d="M354.5 56V69" stroke-dasharray="2 3"/>
<rect x="363.5" y="60.5" width="84" height="48" fill="none"/>
<rect x="360.5" y="80.5" width="3" height="9" fill="none"/>
<rect x="360.5" y="96.5" width="3" height="9" fill="none"/>
<path d="M360 84.5H296.5V340"/>
<path d="M360 100.5H273.5V340"/>
<path d="M297 124.5H298"/>
<path d="M303 124.5H362" stroke-dasharray="3 4"/>
<path d="M273 136.5H276"/>
<path d="M281 136.5H362" stroke-dasharray="3 4"/>
<rect x="363.5" y="231.5" width="84" height="48" fill="none"/>
<rect x="357.5" y="235.5" width="6" height="9" fill="none"/>
<rect x="360.5" y="251.5" width="3" height="9" fill="none"/>
<rect x="360.5" y="267.5" width="3" height="9" fill="none"/>
<path d="M360 255.5H342.5V340"/>
<path d="M360 271.5H319.5V340"/>
<path d="M347 295.5H362" stroke-dasharray="3 3"/>
<path d="M318 307.5H362" stroke-dasharray="3 4"/>
<path d="M262.5 361.5V337.5H352.5V361.5H349.5V347.5H334.5V361.5H327.5V347.5H311.5V361.5H304.5V347.5H288.5V361.5H281.5V347.5H265.5V361.5Z"/>
<path d="M262 344.5H353"/>
</g>
<g stroke="none">
<rect x="267" y="349" width="13" height="9" fill="#000" stroke="none"/>
<path d="M278 350h1v1h-1zM269 351h1v1h-1zM271 351h4v1h-4zM277 351h1v1h-1zM269 352h1v1h-1zM271 352h4v1h-4zM277 352h1v1h-1zM269 353h1v1h-1zM271 353h2v1h-2zM274 353h1v1h-1zM277 353h1v1h-1zM269 354h4v1h-4zM274 354h4v1h-4zM269 355h9v1h-9zM268 356h1v1h-1zM278 356h1v1h-1z" fill="#fff" stroke="none"/>
<rect x="290" y="349" width="13" height="9" fill="#000" stroke="none"/>
<path d="M301 350h1v1h-1zM292 351h1v1h-1zM294 351h4v1h-4zM300 351h1v1h-1zM292 352h1v1h-1zM294 352h4v1h-4zM300 352h1v1h-1zM292 353h1v1h-1zM294 353h2v1h-2zM297 353h1v1h-1zM300 353h1v1h-1zM292 354h4v1h-4zM297 354h4v1h-4zM292 355h9v1h-9zM291 356h1v1h-1zM301 356h1v1h-1z" fill="#fff" stroke="none"/>
<rect x="313" y="349" width="13" height="9" fill="#000" stroke="none"/>
<path d="M324 350h1v1h-1zM315 351h1v1h-1zM317 351h4v1h-4zM323 351h1v1h-1zM315 352h1v1h-1zM317 352h4v1h-4zM323 352h1v1h-1zM315 353h1v1h-1zM317 353h2v1h-2zM320 353h1v1h-1zM323 353h1v1h-1zM315 354h4v1h-4zM320 354h4v1h-4zM315 355h9v1h-9zM314 356h1v1h-1zM324 356h1v1h-1z" fill="#fff" stroke="none"/>
<rect x="336" y="349" width="13" height="9" fill="#000" stroke="none"/>
<path d="M347 350h1v1h-1zM338 351h1v1h-1zM340 351h4v1h-4zM346 351h1v1h-1zM338 352h1v1h-1zM340 352h4v1h-4zM346 352h1v1h-1zM338 353h1v1h-1zM340 353h2v1h-2zM343 353h1v1h-1zM346 353h1v1h-1zM338 354h4v1h-4zM343 354h4v1h-4zM338 355h9v1h-9zM337 356h1v1h-1zM347 356h1v1h-1z" fill="#fff" stroke="none"/>
</g>
<g fill="none" stroke="#000" stroke-width="1" shape-rendering="crispEdges">
<path d="M353 354.5H454.5V400.5H468M454.5 367.5H468"/>
</g>
<path fill="#000" stroke="none" d="M468 366h1v1h-1zM468 367h1v1h-1zM468 368h1v1h-1zM468 369h1v1h-1zM468 370h1v1h-1zM468 371h1v1h-1zM468 372h1v1h-1zM468 395h1v1h-1zM468 396h1v1h-1zM468 397h1v1h-1zM468 398h1v1h-1zM468 399h1v1h-1zM468 400h1v1h-1zM468 401h1v1h-1zM468 402h1v1h-1zM469 364h1v1h-1zM469 365h1v1h-1zM469 373h1v1h-1zM469 374h1v1h-1zM469 393h1v1h-1zM469 394h1v1h-1zM469 403h1v1h-1zM469 404h1v1h-1zM470 363h1v1h-1zM470 375h1v1h-1zM470 392h1v1h-1zM470 405h1v1h-1zM471 362h1v1h-1zM471 376h1v1h-1zM471 391h1v1h-1zM471 406h1v1h-1zM472 361h1v1h-1zM472 377h1v1h-1zM472 390h1v1h-1zM472 394h1v1h-1zM472 395h1v1h-1zM472 396h1v1h-1zM472 407h1v1h-1zM473 360h1v1h-1zM473 370h1v1h-1zM473 371h1v1h-1zM473 372h1v1h-1zM473 378h1v1h-1zM473 389h1v1h-1zM473 394h1v1h-1zM473 395h1v1h-1zM473 396h1v1h-1zM473 408h1v1h-1zM474 360h1v1h-1zM474 371h1v1h-1zM474 372h1v1h-1zM474 373h1v1h-1zM474 378h1v1h-1zM474 389h1v1h-1zM474 394h1v1h-1zM474 395h1v1h-1zM474 396h1v1h-1zM474 408h1v1h-1zM475 359h1v1h-1zM475 373h1v1h-1zM475 379h1v1h-1zM475 389h1v1h-1zM475 408h1v1h-1zM476 359h1v1h-1zM476 364h1v1h-1zM476 373h1v1h-1zM476 379h1v1h-1zM476 388h1v1h-1zM476 409h1v1h-1zM477 359h1v1h-1zM477 363h1v1h-1zM477 364h1v1h-1zM477 379h1v1h-1zM477 388h1v1h-1zM477 402h1v1h-1zM477 403h1v1h-1zM477 404h1v1h-1zM477 409h1v1h-1zM477 410h1v1h-1zM478 359h1v1h-1zM478 363h1v1h-1zM478 364h1v1h-1zM478 379h1v1h-1zM478 388h1v1h-1zM478 402h1v1h-1zM478 404h1v1h-1zM478 409h1v1h-1zM478 410h1v1h-1zM479 359h1v1h-1zM479 363h1v1h-1zM479 364h1v1h-1zM479 379h1v1h-1zM479 388h1v1h-1zM479 402h1v1h-1zM479 403h1v1h-1zM479 404h1v1h-1zM479 409h1v1h-1zM479 410h1v1h-1zM480 359h1v1h-1zM480 363h1v1h-1zM480 364h1v1h-1zM480 379h1v1h-1zM480 388h1v1h-1zM480 409h1v1h-1zM481 359h1v1h-1zM481 364h1v1h-1zM481 373h1v1h-1zM481 379h1v1h-1zM481 389h1v1h-1zM481 408h1v1h-1zM482 360h1v1h-1zM482 373h1v1h-1zM482 378h1v1h-1zM482 389h1v1h-1zM482 394h1v1h-1zM482 395h1v1h-1zM482 396h1v1h-1zM482 408h1v1h-1zM483 360h1v1h-1zM483 370h1v1h-1zM483 371h1v1h-1zM483 372h1v1h-1zM483 373h1v1h-1zM483 378h1v1h-1zM483 389h1v1h-1zM483 394h1v1h-1zM483 395h1v1h-1zM483 396h1v1h-1zM483 408h1v1h-1zM484 361h1v1h-1zM484 371h1v1h-1zM484 372h1v1h-1zM484 377h1v1h-1zM484 390h1v1h-1zM484 395h1v1h-1zM484 407h1v1h-1zM485 362h1v1h-1zM485 376h1v1h-1zM485 391h1v1h-1zM485 406h1v1h-1zM486 363h1v1h-1zM486 375h1v1h-1zM486 392h1v1h-1zM486 405h1v1h-1zM487 364h1v1h-1zM487 365h1v1h-1zM487 373h1v1h-1zM487 374h1v1h-1zM487 393h1v1h-1zM487 394h1v1h-1zM487 403h1v1h-1zM487 404h1v1h-1zM488 366h1v1h-1zM488 367h1v1h-1zM488 368h1v1h-1zM488 369h1v1h-1zM488 370h1v1h-1zM488 371h1v1h-1zM488 372h1v1h-1zM488 395h1v1h-1zM488 396h1v1h-1zM488 397h1v1h-1zM488 398h1v1h-1zM488 399h1v1h-1zM488 400h1v1h-1zM488 401h1v1h-1zM488 402h1v1h-1z"/>
</svg>
</body></html>
